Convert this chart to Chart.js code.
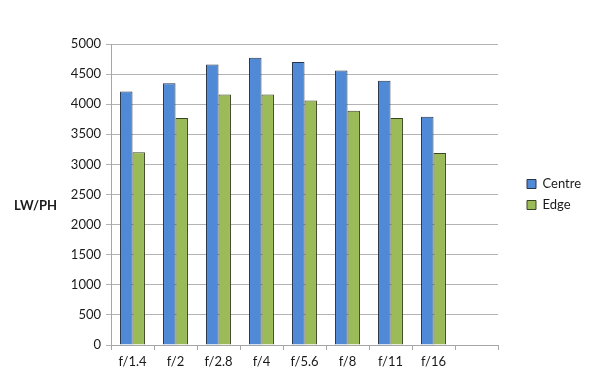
<!DOCTYPE html>
<html>
<head>
<meta charset="utf-8">
<script src="https://cdn.jsdelivr.net/npm/chart.js@4/dist/chart.umd.min.js"></script>
<style>
    html, body { margin: 0; padding: 0; background: #fff; }
    #wrap { position: relative; width: 589px; height: 391px; }
</style>
</head>
<body>
<div id="wrap"><canvas id="chart" width="589" height="391"></canvas></div>
<script>
// Aperture vs resolution (LW/PH), centre and edge
const apertures = ['f/1.4', 'f/2', 'f/2.8', 'f/4', 'f/5.6', 'f/8', 'f/11', 'f/16', ''];
const centre = [4210, 4350, 4660, 4770, 4700, 4560, 4390, 3790, null];
const edge = [3200, 3770, 4160, 4160, 4060, 3890, 3770, 3190, null];
const yTicks = [0, 500, 1000, 1500, 2000, 2500, 3000, 3500, 4000, 4500, 5000];

const FONT = 'Lato, "Open Sans", sans-serif';
const LEGEND_WIDTH = 91;
const LEGEND_SHIFT = 21;

// horizontal y-axis label, the way the spreadsheet draws it
const sideLabel = {
    id: 'sideLabel',
    afterDraw(chart) {
        const ctx = chart.ctx;
        ctx.save();
        ctx.font = 'bold 13px ' + FONT;
        ctx.fillStyle = '#1a1a1a';
        ctx.textAlign = 'left';
        ctx.textBaseline = 'middle';
        ctx.fillText('LW/PH', 14, 206);
        ctx.restore();
    },
};

// keep a gap between plot area and legend items
const legendGap = {
    id: 'legendGap',
    afterInit(chart) {
        const legend = chart.legend;
        if (!legend) return;
        const fit = legend.fit;
        legend.fit = function () {
            fit.call(this);
            this.width = LEGEND_WIDTH;
        };
    },
    afterLayout(chart) {
        if (chart.legend) chart.legend.left += LEGEND_SHIFT;
    },
};

new Chart(document.getElementById('chart'), {
    type: 'bar',
    data: {
        labels: apertures,
        datasets: [
            {
                label: 'Centre',
                data: centre,
                backgroundColor: '#5089d6',
                borderColor: '#27344a',
                borderWidth: 1,
            },
            {
                label: 'Edge',
                data: edge,
                backgroundColor: '#9bbb59',
                borderColor: '#3a4524',
                borderWidth: 1,
            },
        ],
    },
    options: {
        responsive: false,
        animation: false,
        devicePixelRatio: 1,
        layout: { padding: { top: 44, left: 0, right: 0, bottom: 0 } },
        datasets: {
            bar: { categoryPercentage: 0.58, barPercentage: 1.0 },
        },
        plugins: {
            legend: {
                position: 'right',
                fullSize: false,
                labels: {
                    boxWidth: 9,
                    boxHeight: 9,
                    padding: 8,
                    color: '#1a1a1a',
                    font: { family: FONT, size: 13 },
                },
            },
            tooltip: { enabled: false },
        },
        scales: {
            x: {
                afterFit(scale) { scale.height = 46; },
                grid: {
                    drawOnChartArea: false,
                    drawTicks: true,
                    tickLength: 5,
                    color: '#a6a6a6',
                },
                border: { color: '#a6a6a6' },
                ticks: {
                    color: '#1a1a1a',
                    padding: 4,
                    maxRotation: 0,
                    autoSkip: false,
                    font: { family: FONT, size: 13 },
                },
            },
            y: {
                min: 0,
                max: 5000,
                afterFit(scale) { scale.width = 111; },
                afterBuildTicks(scale) {
                    scale.ticks = yTicks.map(v => ({ value: v }));
                },
                grid: {
                    color: '#b3b3b3',
                    tickLength: 5,
                },
                border: { color: '#a6a6a6' },
                ticks: {
                    color: '#1a1a1a',
                    padding: 5,
                    font: { family: FONT, size: 13 },
                    callback: v => String(v),
                },
            },
        },
    },
    plugins: [sideLabel, legendGap],
});
</script>
</body>
</html>
